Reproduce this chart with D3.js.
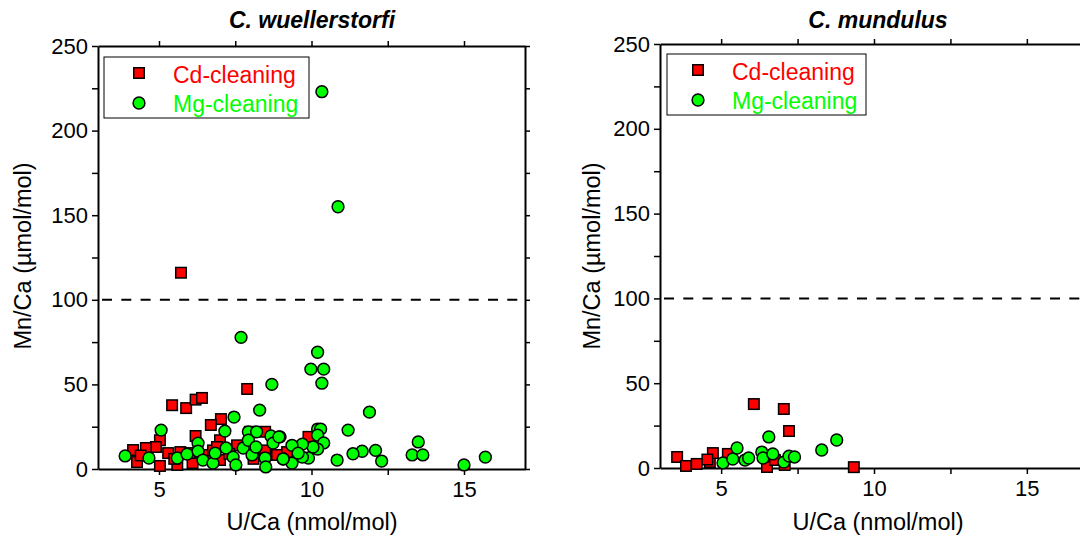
<!DOCTYPE html>
<html>
<head>
<meta charset="utf-8">
<script src="https://d3js.org/d3.v7.min.js"></script>
<style>
  body { margin: 0; background: #fff; }
  svg { font-family: "Liberation Sans", Arial, sans-serif; }
</style>
</head>
<body>
<script>
// ---- data (U/Ca nmol/mol, Mn/Ca umol/mol) ----
var wuelCdU = [5.72, 5.43, 5.89, 6.2, 6.41, 7.89, 7.03, 6.7, 6.2, 5.03, 4.9, 4.57, 4.15, 4.28, 5.03, 5.6, 6.1, 5.3, 5.7, 7.0, 7.56, 7.0, 7.98, 8.48, 8.48, 8.87, 6.0, 6.57, 6.77, 9.9, 4.4, 5.5, 6.9, 7.3, 8.1, 9.2];
var wuelCdMn = [116, 37.7, 36, 41, 42, 47.3, 29.5, 26, 19.5, 17, 13, 12.4, 11.2, 4.1, 1.8, 2.4, 3.5, 9.4, 10, 5.3, 14, 17, 22, 22, 11, 8.3, 9.4, 8.3, 11, 19, 8, 6, 13, 9, 6, 10];

var wuelMgU = [10.34, 10.87, 7.69, 10.2, 9.98, 10.4, 10.34, 11.9, 11.2, 13.5, 13.3, 13.65, 15.0, 15.7, 12.3, 12.1, 11.66, 11.36, 10.84, 10.2, 10.3, 10.2, 10.4, 10.2, 10.05, 9.7, 9.9, 9.7, 9.36, 9.36, 9.07, 8.97,
  3.89, 5.07, 4.67, 5.6, 5.92, 6.28, 6.28, 6.44, 6.77, 6.84, 7.16, 7.2, 7.46, 7.43, 7.52, 7.76, 7.93, 7.93, 8.05, 8.18, 8.3, 8.2, 8.48, 8.5, 8.7, 8.67, 8.74, 8.93, 9.07, 9.56];
var wuelMgMn = [223, 155, 77.8, 69, 59, 59, 50.7, 33.6, 23, 16, 8.3, 8.3, 2.4, 7, 4.7, 11, 10.5, 9, 5.3, 23.6, 23.6, 20, 15.4, 11.8, 13, 14.7, 6.5, 7, 14, 3.5, 5.9, 19,
  7.7, 23, 6.5, 6.5, 8.8, 15.3, 10.6, 5.3, 3.5, 9.4, 22.4, 12.4, 30.7, 7, 2.4, 12.4, 22, 17, 8.3, 13, 34.8, 22, 6.5, 1.2, 50, 19.5, 15.3, 19, 6, 9.4];

var mundCdU = [3.56, 3.85, 4.2, 4.63, 4.73, 5.22, 6.07, 7.05, 7.22, 6.5, 6.76, 7.08, 9.34, 4.55];
var mundCdMn = [6.5, 1.2, 2.4, 3.5, 8.8, 8.3, 37.7, 34.8, 21.8, 0.6, 4.7, 1.8, 0.5, 5];

var mundMgU = [5.06, 5.38, 5.52, 5.78, 5.9, 6.33, 6.37, 6.56, 6.69, 7.05, 7.22, 7.4, 8.29, 8.78];
var mundMgMn = [3, 5.3, 11.8, 4.7, 5.9, 9.4, 5.9, 18.3, 8.3, 3.5, 7, 6.5, 10.6, 16.5];

var xTicks = [5, 7.5, 10, 12.5, 15];
var xLabels = [5, 10, 15];
var yTicks = [0, 25, 50, 75, 100, 125, 150, 175, 200, 225, 250];
var yLabels = [0, 50, 100, 150, 200, 250];
var threshold = 100;

var svg = d3.select("body").append("svg")
    .attr("width", 1080)
    .attr("height", 541);

function zip(a, b) { return a.map(function(d, i) { return {u: d, mn: b[i]}; }); }

function panel(opt) {
    var x = d3.scaleLinear().domain([3, 17]).range([opt.left, opt.right]);
    var y = d3.scaleLinear().domain([0, 250]).range([opt.bottom, opt.top]);
    var g = svg.append("g");

    function styleAxis(sel) {
        sel.selectAll(".domain").attr("stroke", "#000").attr("stroke-width", 2);
        sel.selectAll(".tick line").attr("stroke", "#000").attr("stroke-width", 1.5);
        sel.selectAll("text").attr("font-size", "22px").attr("fill", "#000")
            .attr("font-family", "Liberation Sans, Arial, sans-serif");
    }
    var fmt = function(d) { return xLabels.indexOf(d) >= 0 ? d : ""; };
    var fmtY = function(d) { return yLabels.indexOf(d) >= 0 ? d : ""; };

    g.append("g").attr("transform", "translate(0," + opt.bottom + ")")
        .call(d3.axisBottom(x).tickValues(xTicks).tickFormat(fmt).tickSize(6).tickSizeOuter(0).tickPadding(6))
        .call(styleAxis);
    g.append("g").attr("transform", "translate(0," + opt.top + ")")
        .call(d3.axisTop(x).tickValues(xTicks).tickFormat("").tickSize(5).tickSizeOuter(0))
        .call(styleAxis);
    g.append("g").attr("transform", "translate(" + opt.left + ",0)")
        .call(d3.axisLeft(y).tickValues(yTicks).tickFormat(fmtY).tickSize(6).tickSizeOuter(0).tickPadding(4))
        .call(styleAxis);
    g.append("g").attr("transform", "translate(" + opt.right + ",0)")
        .call(d3.axisRight(y).tickValues(yTicks).tickFormat("").tickSize(5).tickSizeOuter(0))
        .call(styleAxis);

    // dashed 100 line
    g.append("line")
        .attr("x1", x(3) + 4).attr("x2", x(17))
        .attr("y1", y(threshold)).attr("y2", y(threshold))
        .attr("stroke", "#000").attr("stroke-width", 2)
        .attr("stroke-dasharray", "10,9.3");

    // points
    var sq = 10.5, rad = 5.9;
    g.selectAll(".cd").data(zip(opt.cdU, opt.cdMn)).enter().append("rect")
        .attr("x", function(d) { return x(d.u) - sq / 2; })
        .attr("y", function(d) { return y(d.mn) - sq / 2; })
        .attr("width", sq).attr("height", sq)
        .attr("fill", "#ff0000").attr("stroke", "#000").attr("stroke-width", 1.5);
    g.selectAll(".mg").data(zip(opt.mgU, opt.mgMn)).enter().append("circle")
        .attr("cx", function(d) { return x(d.u); })
        .attr("cy", function(d) { return y(d.mn); })
        .attr("r", rad)
        .attr("fill", "#00ff00").attr("stroke", "#000").attr("stroke-width", 1.5);

    // titles and labels
    g.append("text").attr("x", opt.titleX).attr("y", 28)
        .attr("text-anchor", "middle").attr("font-size", "23px")
        .attr("font-weight", "bold").attr("font-style", "italic")
        .text(opt.title);
    g.append("text").attr("x", opt.titleX).attr("y", 530)
        .attr("text-anchor", "middle").attr("font-size", "23.5px")
        .text("U/Ca (nmol/mol)");
    g.append("text")
        .attr("transform", "translate(" + opt.yLabX + ",256) rotate(-90)")
        .attr("text-anchor", "middle").attr("font-size", "23.5px")
        .text("Mn/Ca (\u00b5mol/mol)");

    // legend
    var lg = opt.legend;
    g.append("rect").attr("x", lg.x).attr("y", lg.y).attr("width", lg.w).attr("height", 61)
        .attr("fill", "#fff").attr("stroke", "#000").attr("stroke-width", 1);
    g.append("rect").attr("x", lg.mx - sq / 2).attr("y", lg.y + 16 - sq / 2).attr("width", sq).attr("height", sq)
        .attr("fill", "#ff0000").attr("stroke", "#000").attr("stroke-width", 1.5);
    g.append("circle").attr("cx", lg.mx).attr("cy", lg.y + 46).attr("r", rad)
        .attr("fill", "#00ff00").attr("stroke", "#000").attr("stroke-width", 1.5);
    g.append("text").attr("x", lg.tx).attr("y", lg.y + 26).attr("font-size", "23px")
        .attr("fill", "#ff0000").text("Cd-cleaning");
    g.append("text").attr("x", lg.tx).attr("y", lg.y + 55).attr("font-size", "23px")
        .attr("fill", "#00ff00").text("Mg-cleaning");
}

panel({
    left: 98, right: 525, top: 46, bottom: 469,
    title: "C. wuellerstorfi", titleX: 312, yLabX: 31,
    cdU: wuelCdU, cdMn: wuelCdMn, mgU: wuelMgU, mgMn: wuelMgMn,
    legend: {x: 104, y: 57, w: 205, mx: 139, tx: 173}
});
panel({
    left: 660, right: 1088, top: 44, bottom: 468,
    title: "C. mundulus", titleX: 878, yLabX: 600,
    cdU: mundCdU, cdMn: mundCdMn, mgU: mundMgU, mgMn: mundMgMn,
    legend: {x: 667, y: 54, w: 199, mx: 698, tx: 732}
});
</script>
</body>
</html>
